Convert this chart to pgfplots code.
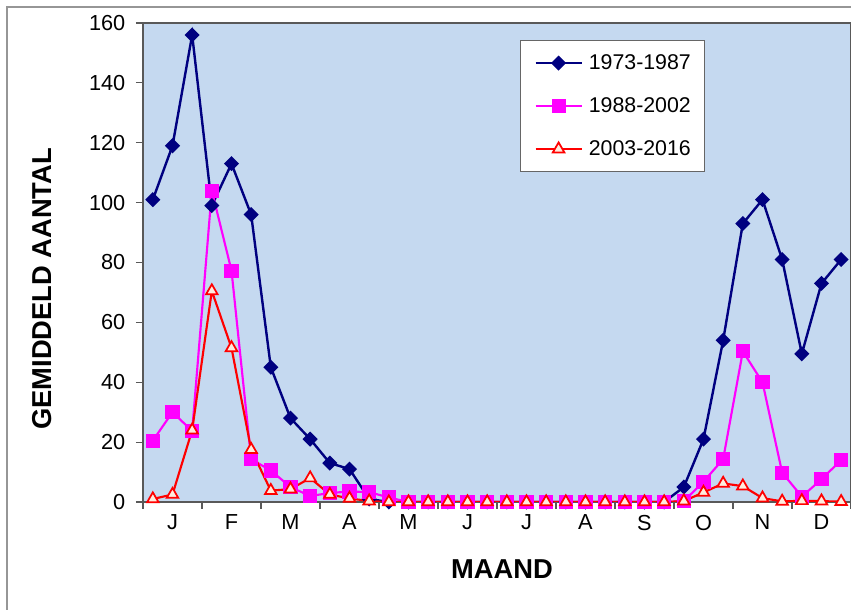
\documentclass[border=0pt]{standalone}
\usepackage{fontspec}
\setmainfont{Liberation Sans}
\usepackage{pgfplots}
\pgfplotsset{compat=1.18}
\definecolor{bgblue}{RGB}{197,217,240}
\definecolor{navy}{RGB}{0,0,128}
\definecolor{mag}{RGB}{255,0,255}
\definecolor{tri}{RGB}{255,236,222}
\definecolor{frame}{RGB}{150,150,150}
\begin{document}
\begin{tikzpicture}
\begin{axis}[
  at={(0,0)}, anchor=south west,
  scale only axis, width=531pt, height=359.25pt,
  xmin=0, xmax=36, ymin=0, ymax=160,
  xtick={1.5,4.5,...,34.5},
  xticklabels={J,F,M,A,M,J,J,A,S,O,N,D},
  minor xtick={0,3,...,36},
  major x tick style={draw=none},
  ytick={0,20,...,160},
  xtick pos=bottom, ytick pos=left,
  tick align=outside,
  major tick length=5.25pt, minor tick length=5.25pt,
  tick style={gray!70!black, line width=0.8pt},
  axis line style={gray!70!black, line width=0.8pt},
  axis background/.style={fill=bgblue},
  /pgf/number format/assume math mode=true,
  tick label style={font=\fontsize{16.3}{19}\selectfont},
  yticklabel style={xshift=-4.5pt},
  xticklabel style={yshift=-1pt},
  every axis y label/.style={at={(rel axis cs:0,0.445)}, xshift=-75.75pt, rotate=90, anchor=center, font=\bfseries\fontsize{20.5}{24}\selectfont},
  every axis x label/.style={at={(rel axis cs:0.507,0)}, yshift=-50.25pt, anchor=center, font=\bfseries\fontsize{20.5}{24}\selectfont},
  ylabel={GEMIDDELD AANTAL},
  xlabel={MAAND},
  legend cell align=left,
  legend style={at={(rel axis cs:0.5325,0.9645)}, anchor=north west,
    draw=gray!80!black, fill=white, line width=0.6pt,
    font=\fontsize{16}{19}\selectfont,
    inner xsep=10.5pt, inner ysep=9.5pt,
    nodes={inner sep=0pt, text height=12pt, text depth=3pt},
    row sep=17.25pt,
    /tikz/every odd column/.append style={column sep=4.5pt}},
  legend image code/.code={\draw[mark repeat=2,mark phase=2] plot coordinates {(0pt,0pt) (17.25pt,0pt) (34.5pt,0pt)};},
]
\addplot[navy, line width=1.8pt, mark=square*, mark size=3.1pt, mark options={rotate=45, solid, fill=navy}] coordinates {
(0.5,101) (1.5,119) (2.5,156) (3.5,99) (4.5,113) (5.5,96) (6.5,45) (7.5,28) (8.5,21) (9.5,13) (10.5,11) (11.5,1)
(12.5,0) (13.5,0) (14.5,0) (15.5,0) (16.5,0) (17.5,0) (18.5,0) (19.5,0) (20.5,0) (21.5,0) (22.5,0) (23.5,0)
(24.5,0) (25.5,0) (26.5,0) (27.5,5) (28.5,21) (29.5,54) (30.5,93) (31.5,101) (32.5,81) (33.5,49.5) (34.5,73) (35.5,81)
};
\addlegendentry{1973-1987}
\addplot[mag, line width=1.6pt, mark=square*, mark size=4.5pt, mark options={solid, fill=mag}] coordinates {
(0.5,20.5) (1.5,30) (2.5,23.7) (3.5,104) (4.5,77.3) (5.5,14.3) (6.5,10.5) (7.5,5) (8.5,2) (9.5,3) (10.5,3.5) (11.5,3.3)
(12.5,1.5) (13.5,0) (14.5,0) (15.5,0) (16.5,0) (17.5,0) (18.5,0) (19.5,0) (20.5,0) (21.5,0) (22.5,0) (23.5,0)
(24.5,0) (25.5,0) (26.5,0) (27.5,0.3) (28.5,6.8) (29.5,14.3) (30.5,50.3) (31.5,40) (32.5,9.8) (33.5,1.8) (34.5,7.6) (35.5,14)
};
\addlegendentry{1988-2002}
\addplot[red, line width=1.6pt, mark=triangle*, mark size=5pt, mark options={solid, fill=tri, draw=red, line width=1.3pt}] coordinates {
(0.5,1) (1.5,2.5) (2.5,24) (3.5,70.5) (4.5,51.5) (5.5,17.5) (6.5,3.8) (7.5,4.3) (8.5,8) (9.5,2.5) (10.5,1.2) (11.5,0.3)
(12.5,0) (13.5,0) (14.5,0) (15.5,0) (16.5,0) (17.5,0) (18.5,0) (19.5,0) (20.5,0) (21.5,0) (22.5,0) (23.5,0)
(24.5,0) (25.5,0) (26.5,0) (27.5,0.3) (28.5,3.2) (29.5,6.2) (30.5,5.3) (31.5,1.3) (32.5,0.2) (33.5,0.4) (34.5,0.3) (35.5,0.1)
};
\addlegendentry{2003-2016}
\end{axis}
\draw[frame, line width=1.2pt] (540pt,371.25pt) -- (-102pt,371.25pt) -- (-102pt,-90pt);
\pgfresetboundingbox
\useasboundingbox (-107.25pt,-81pt) rectangle (531pt,376.5pt);
\end{tikzpicture}
\end{document}
